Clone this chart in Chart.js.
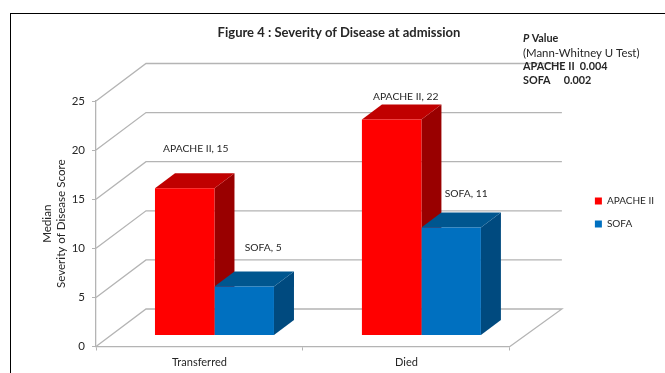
<!DOCTYPE html>
<html>
<head>
<meta charset="utf-8">
<title>Figure 4</title>
<script src="https://cdn.jsdelivr.net/npm/chart.js@4"></script>
<style>
    html, body { margin: 0; padding: 0; background: #fff; overflow: hidden; }
    #wrap { position: relative; width: 665px; height: 373px; }
    #frame { position: absolute; left: 10px; top: 13px; width: 700px; height: 400px; border: 1px solid #000; }
    canvas { position: absolute; left: 0; top: 0; }
</style>
</head>
<body>
<div id="wrap">
    <canvas id="grafica" width="665" height="373"></canvas>
    <div id="frame"></div>
</div>
<script>
const categorias = ['Transferred', 'Died'];
const apacheValues = [15, 22];
const sofaValues = [5, 11];
const yTicks = [0, 5, 10, 15, 20, 25];

const FONT = 'Lato, "Open Sans", sans-serif';
const TEXT = '#262626';
const GRID = '#b4b4b4';

// depth of the walls and of the bars, in pixels
const wallDepth = { x: 50, y: -37.5 };
const barShift = { x: 15, y: -11 };
const barDepth = { x: 20, y: -15 };

// the data labels were placed by hand in the original chart
const labelOffsets = [
    [{ x: 11, y: -40 }, { x: 19, y: -39 }],
    [{ x: 14, y: -23 }, { x: 15, y: -34 }]
];
const depthColors = [
    { top: '#c00000', side: '#990000' },
    { top: '#00568f', side: '#004a7f' }
];

const pValueLines = [
    { text: 'Value', bold: true, prefix: 'P', size: 10.8 },
    { text: '(Mann-Whitney U Test)', bold: false, size: 11.4 },
    { text: 'APACHE II  0.004', bold: true, size: 10.8 },
    { text: 'SOFA     0.002', bold: true, size: 10.8 }
];

function poly(ctx, pts, color) {
    ctx.fillStyle = color;
    ctx.beginPath();
    pts.forEach((p, i) => i ? ctx.lineTo(p[0], p[1]) : ctx.moveTo(p[0], p[1]));
    ctx.closePath();
    ctx.fill();
}

const escena3d = {
    id: 'escena3d',
    afterLayout(chart) {
        // the legend sits a little lower and further right than the layout puts it
        const legend = chart.legend;
        legend.left += 9;
        legend.right += 9;
        legend.top += 26;
        legend.bottom += 26;
    },
    beforeDatasetsDraw(chart) {
        const ctx = chart.ctx;
        const { left, right } = chart.chartArea;
        const y = chart.scales.y;

        // walls: each gridline goes up the side wall and along the back
        ctx.save();
        ctx.strokeStyle = GRID;
        ctx.lineWidth = 1.3;
        yTicks.forEach(v => {
            const py = y.getPixelForValue(v);
            ctx.beginPath();
            ctx.moveTo(left, py);
            ctx.lineTo(left + wallDepth.x, py + wallDepth.y);
            ctx.lineTo(right + wallDepth.x + 2, py + wallDepth.y);
            if (v === 0) ctx.lineTo(right, py);
            ctx.stroke();
        });
        ctx.restore();

        // bars sit between the front and the back, restored in afterDatasetsDraw
        ctx.save();
        ctx.translate(barShift.x, barShift.y);
        chart.data.datasets.forEach((ds, d) => {
            chart.getDatasetMeta(d).data.forEach(bar => {
                const r = bar.x + bar.width / 2;
                const l = bar.x - bar.width / 2;
                const t = bar.y;
                const b = bar.base;
                const dx = barDepth.x;
                const dy = barDepth.y;
                poly(ctx, [[r, t], [r + dx, t + dy], [r + dx, b + dy], [r, b]], depthColors[d].side);
                poly(ctx, [[l, t], [l + dx, t + dy], [r + dx, t + dy], [r, t]], depthColors[d].top);
            });
        });
    },
    afterDatasetsDraw(chart) {
        const ctx = chart.ctx;
        ctx.restore();

        ctx.save();
        ctx.fillStyle = TEXT;
        ctx.textAlign = 'center';
        ctx.textBaseline = 'middle';
        ctx.font = '10.3px ' + FONT;
        chart.data.datasets.forEach((ds, d) => {
            chart.getDatasetMeta(d).data.forEach((bar, i) => {
                const off = labelOffsets[i][d];
                ctx.fillText(ds.label + ', ' + ds.data[i], bar.x + barShift.x + off.x, bar.y + barShift.y + off.y);
            });
        });

        // P value block
        ctx.textAlign = 'left';
        pValueLines.forEach((line, i) => {
            let x = 523;
            const py = 39 + i * 14;
            if (line.prefix) {
                ctx.font = 'italic bold ' + line.size + 'px ' + FONT;
                ctx.fillText(line.prefix, x, py);
                x += ctx.measureText(line.prefix + ' ').width;
            }
            ctx.font = (line.bold ? 'bold ' : '') + line.size + 'px ' + FONT;
            ctx.fillText(line.text, x, py);
        });
        ctx.restore();
    }
};

const chart = new Chart(document.getElementById('grafica').getContext('2d'), {
    type: 'bar',
    data: {
        labels: categorias,
        datasets: [
            { label: 'APACHE II', data: apacheValues, backgroundColor: '#ff0000', clip: false },
            { label: 'SOFA', data: sofaValues, backgroundColor: '#0070c0', clip: false }
        ]
    },
    options: {
        responsive: false,
        animation: false,
        layout: { padding: { left: 23, right: 10, top: 0, bottom: 0 } },
        datasets: { bar: { categoryPercentage: 0.575, barPercentage: 1 } },
        plugins: {
            tooltip: { enabled: false },
            title: {
                display: true,
                text: 'Figure 4 : Severity of Disease at admission',
                color: TEXT,
                font: { family: FONT, size: 13, weight: 'bold' },
                padding: { top: 25, bottom: 60.4 }
            },
            legend: {
                position: 'right',
                labels: {
                    color: TEXT,
                    font: { family: FONT, size: 10 },
                    boxWidth: 7,
                    boxHeight: 7,
                    padding: 13
                }
            }
        },
        scales: {
            x: {
                afterFit(s) { s.height = 26.5; },
                border: { color: GRID, width: 1.3 },
                grid: { drawOnChartArea: false, color: GRID, tickLength: 4 },
                ticks: { color: TEXT, font: { family: FONT, size: 11 }, padding: 5, maxRotation: 0 }
            },
            y: {
                min: 0,
                max: 25,
                afterFit(s) { s.width = 73; },
                border: { color: GRID, width: 1.3 },
                grid: { drawOnChartArea: false, color: GRID, tickLength: 4 },
                ticks: { stepSize: 5, color: TEXT, font: { family: FONT, size: 11.5 }, padding: 7 },
                title: {
                    display: true,
                    text: ['Median', 'Severity of Disease Score'],
                    color: TEXT,
                    font: { family: FONT, size: 11.6, lineHeight: 1.15 },
                    padding: { top: 18, bottom: 0 }
                }
            },
            // only reserves the room between the plot and the legend
            hueco: {
                type: 'linear',
                position: 'right',
                afterFit(s) { s.width = 63; },
                border: { display: false },
                grid: { display: false },
                ticks: { display: false }
            }
        }
    },
    plugins: [escena3d]
});
</script>
</body>
</html>
